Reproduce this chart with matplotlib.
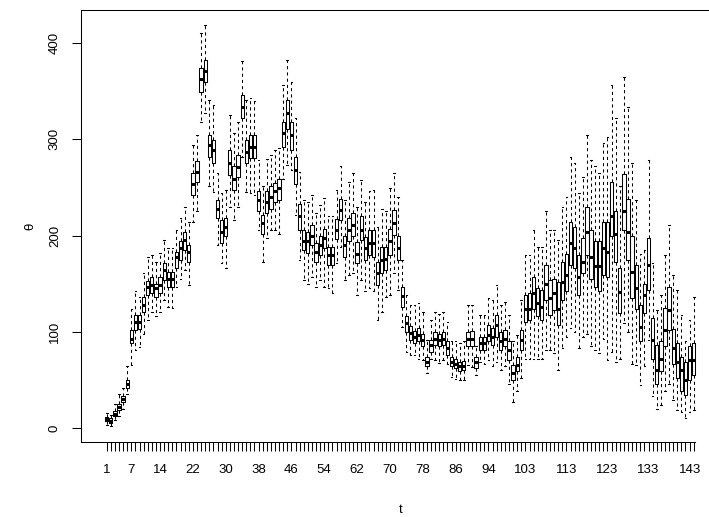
import matplotlib
matplotlib.use("Agg")
import matplotlib.pyplot as plt

plt.rcParams['font.family'] = ['Liberation Sans', 'DejaVu Sans']

# box statistics per time step t = 1..144
whisker_low = [3, 2, 8, 13, 20, 35, 65, 81, 84, 98,
               112, 121, 116, 121, 133, 126, 125, 147, 155, 164,
               149, 214, 226, 318, 327, 251, 245, 190, 171, 166,
               230, 216, 230, 282, 245, 244, 242, 206, 173, 197,
               206, 206, 202, 259, 273, 268, 221, 175, 154, 150,
               157, 147, 154, 147, 145, 140, 171, 188, 154, 159,
               161, 138, 154, 142, 145, 142, 112, 121, 136, 138,
               161, 143, 105, 79, 76, 76, 72, 71, 57, 72,
               71, 68, 71, 67, 53, 51, 50, 50, 65, 63,
               55, 69, 67, 71, 64, 69, 60, 64, 46, 27,
               39, 52, 72, 72, 72, 72, 72, 81, 81, 78,
               60, 83, 95, 104, 100, 83, 95, 98, 85, 81,
               78, 93, 71, 79, 69, 72, 109, 100, 67, 65,
               45, 64, 91, 33, 20, 24, 39, 46, 29, 19,
               17, 10, 17, 19]
quart_low = [7, 5, 12, 19, 27, 42, 88, 102, 103, 121,
             138, 140, 136, 140, 154, 147, 147, 166, 175, 185,
             173, 242, 256, 349, 360, 282, 275, 218, 192, 199,
             263, 247, 261, 322, 275, 281, 281, 225, 202, 223,
             228, 235, 237, 292, 311, 289, 254, 206, 185, 182,
             190, 173, 180, 187, 169, 169, 196, 216, 178, 194,
             199, 171, 195, 175, 180, 178, 149, 161, 164, 180,
             201, 175, 126, 100, 91, 88, 90, 85, 64, 79,
             86, 85, 86, 76, 64, 62, 59, 60, 85, 85,
             62, 81, 81, 90, 86, 95, 81, 85, 71, 50,
             59, 81, 110, 112, 124, 116, 112, 133, 117, 123,
             107, 133, 142, 169, 166, 138, 161, 180, 155, 147,
             142, 159, 157, 199, 173, 119, 206, 175, 135, 124,
             90, 119, 143, 72, 46, 59, 85, 102, 67, 52,
             39, 34, 50, 55]
median = [9, 7, 15, 22, 30, 46, 93, 110, 110, 128,
          147, 149, 145, 149, 164, 155, 155, 178, 187, 195,
          183, 254, 266, 363, 371, 294, 289, 228, 204, 209,
          275, 259, 271, 334, 287, 292, 292, 237, 213, 235,
          240, 246, 249, 306, 327, 304, 268, 220, 194, 194,
          200, 183, 190, 197, 180, 180, 206, 227, 190, 206,
          211, 181, 206, 187, 192, 192, 161, 175, 176, 194,
          213, 187, 137, 109, 99, 95, 97, 91, 69, 86,
          92, 91, 92, 83, 69, 67, 64, 64, 93, 93,
          69, 88, 88, 97, 95, 107, 90, 93, 81, 57,
          65, 91, 124, 124, 140, 130, 126, 150, 135, 140,
          124, 152, 159, 192, 187, 157, 173, 204, 178, 168,
          168, 187, 183, 220, 202, 141, 226, 204, 162, 145,
          105, 138, 169, 91, 60, 72, 102, 123, 83, 69,
          60, 50, 71, 71]
quart_high = [11, 10, 18, 25, 33, 50, 102, 117, 117, 136,
              153, 157, 150, 157, 171, 162, 162, 183, 194, 204,
              190, 265, 277, 374, 382, 304, 299, 237, 216, 218,
              289, 272, 284, 346, 299, 304, 304, 246, 221, 246,
              251, 255, 259, 318, 341, 318, 282, 233, 206, 204,
              211, 192, 200, 207, 188, 188, 217, 238, 200, 218,
              223, 193, 220, 198, 206, 206, 173, 188, 188, 207,
              227, 200, 147, 116, 106, 101, 104, 98, 74, 91,
              100, 98, 100, 90, 74, 72, 69, 70, 100, 101,
              74, 95, 95, 107, 104, 117, 100, 102, 90, 65,
              74, 102, 138, 140, 157, 145, 143, 169, 154, 155,
              152, 173, 181, 214, 209, 180, 197, 230, 206, 194,
              194, 214, 214, 256, 226, 166, 264, 238, 200, 169,
              128, 150, 197, 114, 86, 90, 125, 147, 103, 88,
              74, 69, 85, 88]
whisker_high = [16, 14, 25, 35, 42, 64, 124, 142, 136, 161,
                178, 180, 172, 182, 195, 187, 187, 206, 218, 230,
                214, 294, 304, 410, 419, 341, 336, 265, 244, 247,
                325, 306, 318, 381, 341, 343, 340, 278, 251, 280,
                284, 289, 291, 356, 382, 359, 322, 266, 237, 235,
                242, 223, 232, 239, 220, 220, 247, 272, 237, 256,
                265, 230, 258, 235, 246, 247, 209, 228, 225, 249,
                265, 240, 175, 138, 128, 128, 130, 121, 91, 112,
                121, 118, 121, 110, 90, 90, 88, 90, 128, 128,
                85, 117, 117, 135, 133, 149, 128, 131, 117, 90,
                97, 133, 180, 180, 206, 188, 188, 225, 206, 206,
                195, 230, 240, 282, 275, 244, 261, 304, 278, 272,
                265, 296, 302, 356, 322, 251, 365, 334, 275, 237,
                181, 185, 278, 171, 123, 138, 180, 211, 159, 143,
                117, 90, 112, 136]

t = list(range(1, len(median) + 1))
shown_labels = [1, 7, 14, 22, 30, 38, 46, 54, 62, 70, 78, 86, 94,
                103, 113, 123, 133, 143]
y_ticks = [0, 100, 200, 300, 400]

fig = plt.figure(figsize=(7.09, 5.17), dpi=100)
ax = fig.add_axes([81 / 709, 75 / 517, 638.4 / 709, 432 / 517])

stats = []
for i in range(len(t)):
    stats.append(dict(whislo=whisker_low[i], q1=quart_low[i], med=median[i],
                      q3=quart_high[i], whishi=whisker_high[i], label=str(t[i])))

ax.bxp(stats, positions=t, widths=0.8, capwidths=0.4, showfliers=False,
       manage_ticks=False,
       boxprops=dict(color='black', lw=0.75),
       whiskerprops=dict(color='black', lw=0.75, linestyle=(0, (3, 3))),
       capprops=dict(color='black', lw=0.75),
       medianprops=dict(color='black', lw=2.2, solid_capstyle='butt'))

ax.set_xlim(-5.26, 150.26)
ax.set_ylim(-14.5, 434.3)

ax.set_xticks(t)
ax.set_xticklabels([str(v) if v in shown_labels else '' for v in t])
ax.set_yticks(y_ticks)
ax.set_yticklabels([str(v) for v in y_ticks], rotation=90, va='center')

ax.tick_params(axis='both', direction='out', length=6.5, width=0.75,
               labelsize=9.5, color='black')
ax.tick_params(axis='x', pad=9)
ax.tick_params(axis='y', pad=8)

for side in ['left', 'top', 'bottom']:
    ax.spines[side].set_linewidth(0.75)
ax.spines['right'].set_visible(False)
ax.spines['bottom'].set_bounds(-5.26, 144.35)

ax.set_xlabel('t', fontsize=9.5)
ax.set_ylabel('θ', fontsize=9.5)
ax.xaxis.set_label_coords(0.501, -0.157)
ax.xaxis.label.set_verticalalignment('center')
ax.yaxis.set_label_coords(-0.0799, 0.5)
ax.yaxis.label.set_verticalalignment('center')

fig.savefig('out.png', dpi=100)
